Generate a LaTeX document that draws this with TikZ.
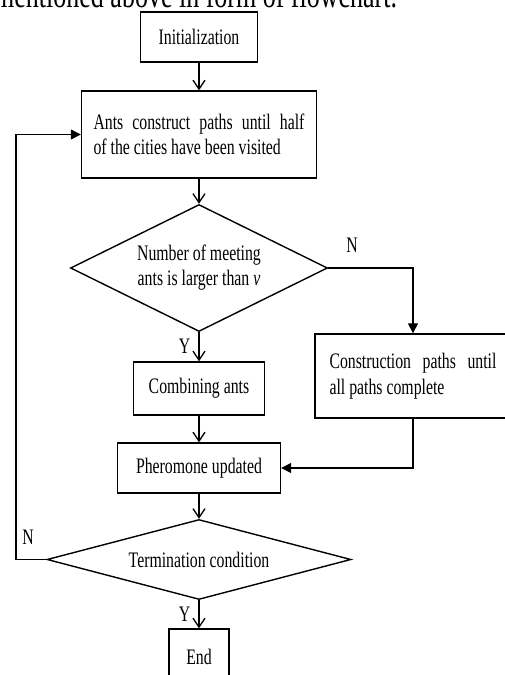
\documentclass[tikz,border=0pt]{standalone}
\usepackage{fontspec}
\setmainfont{Liberation Serif}
\usepackage{graphicx}
\usetikzlibrary{positioning}
\usetikzlibrary{shapes.geometric, arrows.meta}

\newcommand{\tall}[1]{\scalebox{1}[1.4]{#1}}

\tikzset{
  block/.style={draw, rectangle, line width=1.4pt, inner sep=0pt},
  decision/.style={draw, diamond, line width=1.4pt, inner sep=0pt, aspect=2},
  openarrow/.style={-{Straight Barb[length=9pt,width=12pt]}, line width=1.3pt},
  fillarrow/.style={-{Triangle[length=10pt,width=10pt]}, line width=1.3pt},
  lbl/.style={inner sep=0pt}
}

\begin{document}
\begin{tikzpicture}[x=1pt, y=-1pt, font=\fontsize{15.8}{18.2}\selectfont]
    \clip (0,0) rectangle (505,675);
    % cut-off line of the page above
    \node[lbl, anchor=base west] (caption) at (-6,7) {\fontsize{26}{30}\selectfont\tall{mentioned above in form of flowchart.}};

    \node[block, minimum width=117, minimum height=50] (init) at (199,37) {\tall{Initialization}};
    \node[block, minimum width=235, minimum height=87] (ants) at (199,134.5) {\tall{\parbox{211pt}{Ants construct paths until half\linebreak of the cities have been visited}}};
    \node[decision, minimum width=257, minimum height=127] (meet) at (199,268) {\tall{\begin{tabular}{@{}c@{}}Number of meeting\\ ants is larger than \textit{v}\end{tabular}}};
    \node[block, minimum width=131, minimum height=53] (comb) at (199,388.5) {\tall{Combining ants}};
    \node[block, minimum width=196, minimum height=84] (cons) at (413,376) {\tall{\parbox{167pt}{Construction paths until\linebreak all paths complete}}};
    \node[block, minimum width=163, minimum height=50] (pher) at (199,468) {\tall{Pheromone updated}};
    \node[decision, aspect=3.8, minimum width=304, minimum height=80] (term) at (199,559.5) {\tall{Termination condition}};
    \node[block, minimum width=60, minimum height=56] (fin) at (199,657) {\tall{End}};

    \draw[openarrow] (init) -- (ants);
    \draw[openarrow] (ants) -- (meet);
    \draw[openarrow] (meet) -- node[lbl, left=8pt] (y1) {\tall{Y}} (comb);
    \draw[fillarrow] (meet.east) -| (cons.north);
    \node[lbl] (n1) at (352,245) {\tall{N}};
    \draw[openarrow] (comb) -- (pher);
    \draw[fillarrow] (cons.south) |- (pher.east);
    \draw[openarrow] (pher) -- (term);
    \draw[openarrow] (term) -- node[lbl, left=8pt] (y2) {\tall{Y}} (fin);
    \coordinate (loop) at (16,559.5);
    \draw[fillarrow] (term.west) -- (loop) |- (ants.west);
    \node[lbl] (n2) at (28,537) {\tall{N}};
\end{tikzpicture}
\end{document}
